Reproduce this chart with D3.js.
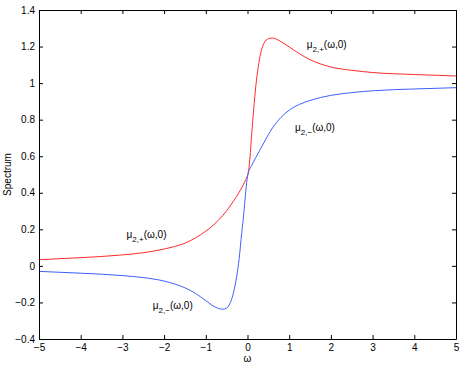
<!DOCTYPE html>
<html><head><meta charset="utf-8">
<script src="https://cdn.jsdelivr.net/npm/d3@7"></script>
<style>
body{margin:0;background:#fff;}
text{font-family:"Liberation Sans",Arial,Helvetica,sans-serif;}
</style></head>
<body><svg id="c" width="463" height="367"></svg>
<script>
const omega = [-5,-4,-3,-2.5,-2,-1.75,-1.5,-1.25,-1,-0.8,-0.6,-0.5,-0.42,-0.35,-0.3,-0.26,-0.2,-0.14,-0.1,-0.06,-0.02,0.02,0.05,0.1,0.15,0.2,0.25,0.3,0.35,0.4,0.5,0.6,0.7,0.8,1,1.25,1.5,1.75,2,2.5,3,4,5];
const muPlus = [0.034,0.045,0.06,0.072,0.092,0.106,0.124,0.153,0.19,0.227,0.274,0.302,0.327,0.35,0.367,0.381,0.403,0.427,0.444,0.463,0.484,0.512,0.568,0.72,0.86,0.985,1.075,1.145,1.193,1.22,1.243,1.247,1.24,1.227,1.198,1.16,1.128,1.105,1.088,1.07,1.058,1.047,1.039];
const muMinus = [-0.030,-0.040,-0.053,-0.064,-0.083,-0.099,-0.12,-0.15,-0.19,-0.222,-0.237,-0.231,-0.205,-0.16,-0.11,-0.06,0.04,0.178,0.26,0.36,0.455,0.51,0.528,0.55,0.572,0.593,0.614,0.635,0.656,0.677,0.718,0.755,0.786,0.812,0.852,0.884,0.905,0.921,0.933,0.948,0.958,0.968,0.975];
const xTicks = [-5,-4,-3,-2,-1,0,1,2,3,4,5];
const yTicks = [-0.4,-0.2,0,0.2,0.4,0.6,0.8,1,1.2,1.4];
const labels = [
  {name:"+", x:1.42, y:1.19},
  {name:"−", x:1.14, y:0.74},
  {name:"+", x:-2.9, y:0.155},
  {name:"−", x:-2.27, y:-0.235}
];

const svg = d3.select("#c");
const L=39, R=456, T=10, B=339;
const x = d3.scaleLinear().domain([-5,5]).range([L,R]);
const y = d3.scaleLinear().domain([-0.4,1.4]).range([B,T]);
const fmt = d => (d<0?"−":"") + String(Math.abs(+d.toFixed(1)));

const line = d3.line().x((d,i)=>x(omega[i])).y(d=>y(d)).curve(d3.curveMonotoneX);
svg.append("path").attr("d", line(muPlus)).attr("fill","none").attr("stroke","#ff2a2a").attr("stroke-width",1);
svg.append("path").attr("d", line(muMinus)).attr("fill","none").attr("stroke","#3f5fff").attr("stroke-width",1);

// axes (MATLAB box with inward ticks)
const gB = svg.append("g").attr("transform",`translate(0,${B})`)
  .call(d3.axisBottom(x).tickValues(xTicks).tickSizeInner(-4).tickSizeOuter(0).tickPadding(5).tickFormat(fmt));
const gT = svg.append("g").attr("transform",`translate(0,${T})`)
  .call(d3.axisTop(x).tickValues(xTicks).tickSizeInner(-4).tickSizeOuter(0).tickFormat(""));
const gL = svg.append("g").attr("transform",`translate(${L},0)`)
  .call(d3.axisLeft(y).tickValues(yTicks).tickSizeInner(-4).tickSizeOuter(0).tickPadding(4).tickFormat(fmt));
const gR = svg.append("g").attr("transform",`translate(${R},0)`)
  .call(d3.axisRight(y).tickValues(yTicks).tickSizeInner(-4).tickSizeOuter(0).tickFormat(""));
[gB,gT,gL,gR].forEach(g=>{
  g.selectAll("path").attr("stroke","#000").attr("stroke-width",1);
  g.selectAll("line").attr("stroke","#000").attr("stroke-width",1);
  g.selectAll("text").attr("font-size",10).attr("fill","#000").attr("font-family","Liberation Sans, Arial, sans-serif");
});

// axis labels
svg.append("text").attr("x",(L+R)/2).attr("y",362).attr("text-anchor","middle").attr("font-size",10).text("ω");
svg.append("text").attr("transform",`translate(11,${(T+B)/2}) rotate(-90)`).attr("text-anchor","middle").attr("font-size",10).text("Spectrum");

// curve annotations
labels.forEach(l=>{
  const t = svg.append("text").attr("x",x(l.x)).attr("y",y(l.y)).attr("font-size",10);
  t.append("tspan").text("μ");
  t.append("tspan").attr("dy",4).attr("font-size",8).text("2," + l.name);
  t.append("tspan").attr("dy",-4).text("(ω,0)");
});
</script></body></html>
